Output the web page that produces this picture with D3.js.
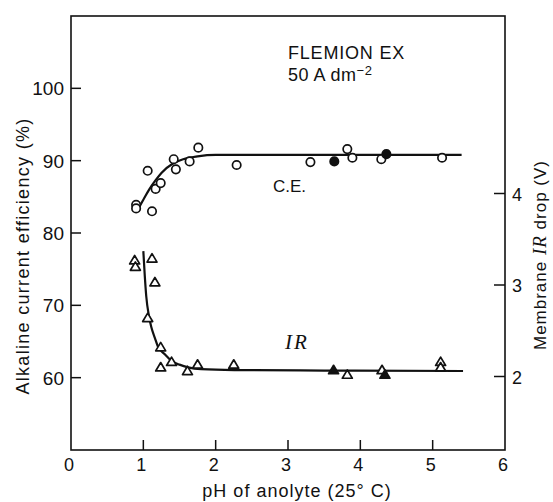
<!DOCTYPE html>
<html>
<head>
<meta charset="utf-8">
<script src="https://cdn.jsdelivr.net/npm/d3@7"></script>
<style>
  body { margin: 0; background: #fff; }
  svg { display: block; }
  text { font-family: "Liberation Sans", Arial, sans-serif; fill: #111; }
</style>
</head>
<body>
<svg id="chart" width="553" height="502"></svg>
<script>
// current efficiency (left axis, %)
const cePh     = [0.90, 0.90, 1.06, 1.12, 1.17, 1.24, 1.42, 1.45, 1.64, 1.76, 2.29, 3.31, 3.64, 3.82, 3.89, 4.29, 4.36, 5.13];
const ceVal    = [83.9, 83.4, 88.6, 83.0, 86.1, 86.9, 90.2, 88.8, 89.9, 91.8, 89.4, 89.8, 89.9, 91.6, 90.4, 90.2, 90.9, 90.4];
const ceFilled = [0, 0, 0, 0, 0, 0, 0, 0, 0, 0, 0, 0, 1, 0, 0, 0, 1, 0];

// membrane IR drop (right axis, V)
const irPh     = [0.88, 0.89, 1.12, 1.16, 1.06, 1.24, 1.24, 1.39, 1.61, 1.75, 2.25, 3.63, 3.82, 4.30, 4.34, 5.11, 5.11];
const irVal    = [3.27, 3.20, 3.29, 3.03, 2.64, 2.32, 2.10, 2.16, 2.06, 2.13, 2.13, 2.07, 2.02, 2.07, 2.02, 2.16, 2.10];
const irFilled = [0, 0, 0, 0, 0, 0, 0, 0, 0, 0, 0, 1, 0, 0, 1, 0, 0];

// hand-drawn fit curves
const ceFitPh  = [0.92, 1.0, 1.08, 1.17, 1.25, 1.41, 1.55, 1.75, 2.0, 2.5, 5.4];
const ceFitVal = [83.2, 84.6, 86.0, 87.3, 88.3, 89.6, 90.2, 90.6, 90.8, 90.8, 90.8];
const irFitPh  = [1.0, 1.02, 1.04, 1.08, 1.11, 1.16, 1.2, 1.3, 1.39, 1.5, 1.62, 1.8, 2.26, 3.5, 5.42];
const irFitVal = [3.37, 3.1, 2.88, 2.65, 2.54, 2.42, 2.33, 2.24, 2.17, 2.13, 2.10, 2.08, 2.07, 2.065, 2.06];

// ticks
const xTicks = [0, 1, 2, 3, 4, 5, 6];
const ceTicks = [60, 70, 80, 90, 100];
const irTicks = [2, 3, 4];

let svg = d3.select("#chart");
let mLeft = 71, mRight = 505, mTop = 16, mBottom = 450;

let x = d3.scaleLinear().domain([0, 6]).range([mLeft, mRight]);
let yL = d3.scaleLinear().domain([50, 110]).range([mBottom, mTop]);
let yR = d3.scaleLinear().domain([2 - (mBottom - 376.5) / 91.5, 2 + (376.5 - mTop) / 91.5]).range([mBottom, mTop]);

// frame
svg.append("rect")
    .attr("x", mLeft).attr("y", mTop)
    .attr("width", mRight - mLeft).attr("height", mBottom - mTop)
    .style("fill", "none").style("stroke", "#111").style("stroke-width", 1.6);

// x ticks + labels
let xT = svg.append("g");
xT.selectAll("line").data(xTicks.filter(d => d > 0 && d < 6)).enter()
    .append("line")
    .attr("x1", d => x(d)).attr("x2", d => x(d))
    .attr("y1", mBottom).attr("y2", mBottom - 10)
    .style("stroke", "#111").style("stroke-width", 1.5);
xT.selectAll("text").data(xTicks).enter()
    .append("text")
    .attr("x", d => x(d) - 2).attr("y", mBottom + 21)
    .attr("text-anchor", "middle")
    .style("font-size", "18px")
    .text(d => d);

// left ticks
let lT = svg.append("g");
lT.selectAll("line").data(ceTicks).enter()
    .append("line")
    .attr("x1", mLeft).attr("x2", mLeft + 10)
    .attr("y1", d => yL(d)).attr("y2", d => yL(d))
    .style("stroke", "#111").style("stroke-width", 1.5);
lT.selectAll("text").data(ceTicks).enter()
    .append("text")
    .attr("x", mLeft - 7).attr("y", d => yL(d) + 7)
    .attr("text-anchor", "end")
    .style("font-size", "19px")
    .text(d => d);

// right ticks
let rT = svg.append("g");
rT.selectAll("line").data(irTicks).enter()
    .append("line")
    .attr("x1", mRight).attr("x2", mRight - 11)
    .attr("y1", d => yR(d)).attr("y2", d => yR(d))
    .style("stroke", "#111").style("stroke-width", 1.5);
rT.selectAll("text").data(irTicks).enter()
    .append("text")
    .attr("x", mRight + 12).attr("y", d => yR(d) + 7)
    .attr("text-anchor", "middle")
    .style("font-size", "18px")
    .text(d => d);

// axis titles
svg.append("text")
    .attr("x", 297).attr("y", 497)
    .attr("text-anchor", "middle")
    .style("font-size", "18px").style("letter-spacing", "1px")
    .text("pH of anolyte  (25\u00B0 C)");

svg.append("text")
    .attr("transform", "translate(29,256) rotate(-90)")
    .attr("text-anchor", "middle")
    .style("font-size", "18px").style("letter-spacing", "1.3px")
    .text("Alkaline current efficiency  (%)");

let rTitle = svg.append("text")
    .attr("transform", "translate(546,255) rotate(-90)")
    .attr("text-anchor", "middle")
    .style("font-size", "17px").style("letter-spacing", "1px");
rTitle.append("tspan").text("Membrane ");
rTitle.append("tspan").style("font-family", "'Liberation Serif', serif").style("font-style", "italic").style("font-size", "19px").text("IR");
rTitle.append("tspan").text(" drop  (V)");

// fit curves
let lineCE = d3.line().x(d => x(d[0])).y(d => yL(d[1])).curve(d3.curveMonotoneX);
let lineIR = d3.line().x(d => x(d[0])).y(d => yR(d[1])).curve(d3.curveMonotoneX);

svg.append("path")
    .attr("d", lineCE(d3.zip(ceFitPh, ceFitVal)))
    .style("fill", "none").style("stroke", "#111").style("stroke-width", 2.2);
svg.append("path")
    .attr("d", lineIR(d3.zip(irFitPh, irFitVal)))
    .style("fill", "none").style("stroke", "#111").style("stroke-width", 2.2);

// CE circles
svg.append("g").selectAll("circle")
    .data(d3.zip(cePh, ceVal, ceFilled)).enter()
    .append("circle")
    .attr("cx", d => x(d[0])).attr("cy", d => yL(d[1]))
    .attr("r", 4.2)
    .style("fill", d => d[2] ? "#111" : "#fff")
    .style("stroke", "#111").style("stroke-width", 1.7);

// IR triangles
let tri = "M0,-4.8L5,3.6L-5,3.6Z";
svg.append("g").selectAll("path")
    .data(d3.zip(irPh, irVal, irFilled)).enter()
    .append("path")
    .attr("d", tri)
    .attr("transform", d => "translate(" + x(d[0]) + "," + yR(d[1]) + ")")
    .style("fill", d => d[2] ? "#111" : "#fff")
    .style("stroke", "#111").style("stroke-width", 1.7)
    .style("stroke-linejoin", "round");

// annotations
svg.append("text")
    .attr("x", 288).attr("y", 59)
    .style("font-size", "18px").style("letter-spacing", "0.8px")
    .text("FLEMION EX");
let cd = svg.append("text")
    .attr("x", 288).attr("y", 81)
    .style("font-size", "18px").style("letter-spacing", "0.5px");
cd.append("tspan").text("50 A dm");
cd.append("tspan").attr("dy", -6).style("font-size", "13px").text("\u22122");

svg.append("text")
    .attr("x", 273).attr("y", 192)
    .style("font-size", "17px")
    .text("C.E.");

svg.append("text")
    .attr("x", 285).attr("y", 349)
    .style("font-family", "'Liberation Serif', serif").style("font-style", "italic")
    .style("font-size", "21px").style("letter-spacing", "2px")
    .text("IR");
</script>
</body>
</html>
